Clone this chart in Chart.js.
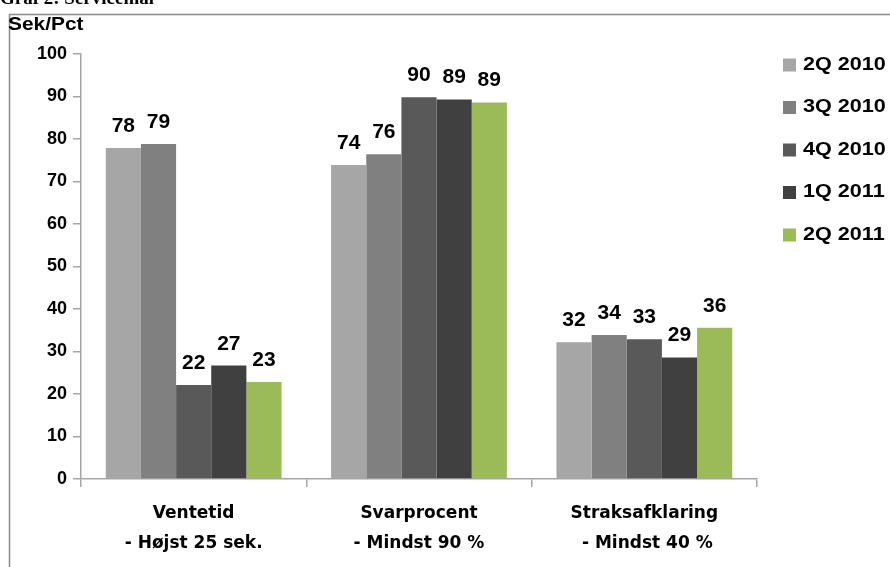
<!DOCTYPE html>
<html>
<head>
<meta charset="utf-8">
<script src="https://cdn.jsdelivr.net/npm/chart.js@4.4.1/dist/chart.umd.min.js"></script>
<style>
  html, body { margin: 0; padding: 0; background: #fff; }
  canvas { display: block; }
</style>
</head>
<body>
<canvas id="myChart" width="890" height="567"></canvas>
<script>
  // Data
  const categories = [['Ventetid', '- Højst 25 sek.'], ['Svarprocent', '- Mindst 90 %'], ['Straksafklaring', ' - Mindst 40 %']];
  const seriesNames = ['2Q 2010', '3Q 2010', '4Q 2010', '1Q 2011', '2Q 2011'];
  const q2_2010 = [77.9, 73.9, 32.2];
  const q3_2010 = [78.8, 76.4, 33.9];
  const q4_2010 = [22.1, 89.8, 32.9];
  const q1_2011 = [26.7, 89.3, 28.6];
  const q2_2011 = [22.8, 88.6, 35.6];
  const yTicks = [0, 10, 20, 30, 40, 50, 60, 70, 80, 90, 100];
  const colors = ['#A6A6A6', '#808080', '#595959', '#404040', '#9BBB59'];

  const allSeries = [q2_2010, q3_2010, q4_2010, q1_2011, q2_2011];
  const FONT = '"Liberation Sans", Arial, sans-serif';
  const WIDE = '"DejaVu Sans", sans-serif';
  const axisColor = '#A6A6A6';

  // text stretched sideways, like the original picture
  function wideText(c, text, x, y, sx) {
    c.save();
    c.translate(x, y);
    c.scale(sx, 1);
    c.fillText(text, 0, 0);
    c.restore();
  }

  // frame, title fragment, unit label, value labels and legend
  const extras = {
    id: 'extras',
    beforeDraw(chart) {
      const c = chart.ctx;
      c.save();
      c.fillStyle = '#fff';
      c.fillRect(0, 0, chart.width, chart.height);
      c.strokeStyle = '#8C8C8C';
      c.lineWidth = 1.5;
      c.beginPath();
      c.moveTo(9.5, 567);
      c.lineTo(9.5, 14.5);
      c.lineTo(890, 14.5);
      c.stroke();
      c.fillStyle = '#000';
      c.font = 'bold 19px "Liberation Serif", serif';
      c.textBaseline = 'alphabetic';
      c.fillText('Graf 2: Servicemål', 0, 4);
      c.font = 'bold 19px ' + FONT;
      wideText(c, 'Sek/Pct', 8, 30, 1.1);
      c.restore();
    },
    afterDatasetsDraw(chart) {
      const c = chart.ctx;
      c.save();
      c.fillStyle = '#000';
      c.font = 'bold 21px ' + FONT;
      c.textAlign = 'center';
      c.textBaseline = 'alphabetic';
      chart.data.datasets.forEach((ds, i) => {
        chart.getDatasetMeta(i).data.forEach((bar, j) => {
          c.fillText(Math.round(ds.data[j]), bar.x, bar.y - 16);
        });
      });
      // legend
      c.textAlign = 'left';
      c.textBaseline = 'middle';
      c.font = 'bold 18px ' + FONT;
      chart.data.datasets.forEach((ds, i) => {
        const y = 65 + i * 42.5;
        c.fillStyle = ds.backgroundColor;
        c.fillRect(783, y - 6.5, 13, 13);
        c.fillStyle = '#000';
        wideText(c, ds.label, 803, y, 1.2);
      });
      c.restore();
    }
  };

  const ctx = document.getElementById('myChart').getContext('2d');

  const myChart = new Chart(ctx, {
    type: 'bar',
    data: {
      labels: categories,
      datasets: seriesNames.map((name, i) => ({
        label: name,
        data: allSeries[i],
        backgroundColor: colors[i],
        borderWidth: 0,
        categoryPercentage: 0.78,
        barPercentage: 1.0
      }))
    },
    options: {
      responsive: false,
      animation: false,
      layout: { padding: { top: 54, right: 133, left: 0, bottom: 0 } },
      plugins: {
        legend: { display: false },
        tooltip: { enabled: false }
      },
      scales: {
        x: {
          grid: {
            offset: true,
            drawOnChartArea: false,
            drawTicks: true,
            tickLength: 8,
            color: axisColor,
            lineWidth: 1.5
          },
          border: { color: axisColor, width: 1.5 },
          ticks: {
            color: '#000',
            padding: 11,
            maxRotation: 0,
            font: { family: WIDE, size: 17, weight: 'bold', lineHeight: 1.8 }
          },
          afterFit(scale) { scale.height = 567 - 479; }
        },
        y: {
          min: 0,
          max: 100,
          afterBuildTicks(scale) { scale.ticks = yTicks.map(v => ({ value: v })); },
          grid: {
            drawOnChartArea: false,
            drawTicks: true,
            tickLength: 8,
            color: axisColor,
            lineWidth: 1.5
          },
          border: { color: axisColor, width: 1.5 },
          ticks: {
            color: '#000',
            padding: 6,
            font: { family: FONT, size: 18, weight: 'bold' }
          },
          afterFit(scale) { scale.width = 81; }
        }
      }
    },
    plugins: [extras]
  });
</script>
</body>
</html>
